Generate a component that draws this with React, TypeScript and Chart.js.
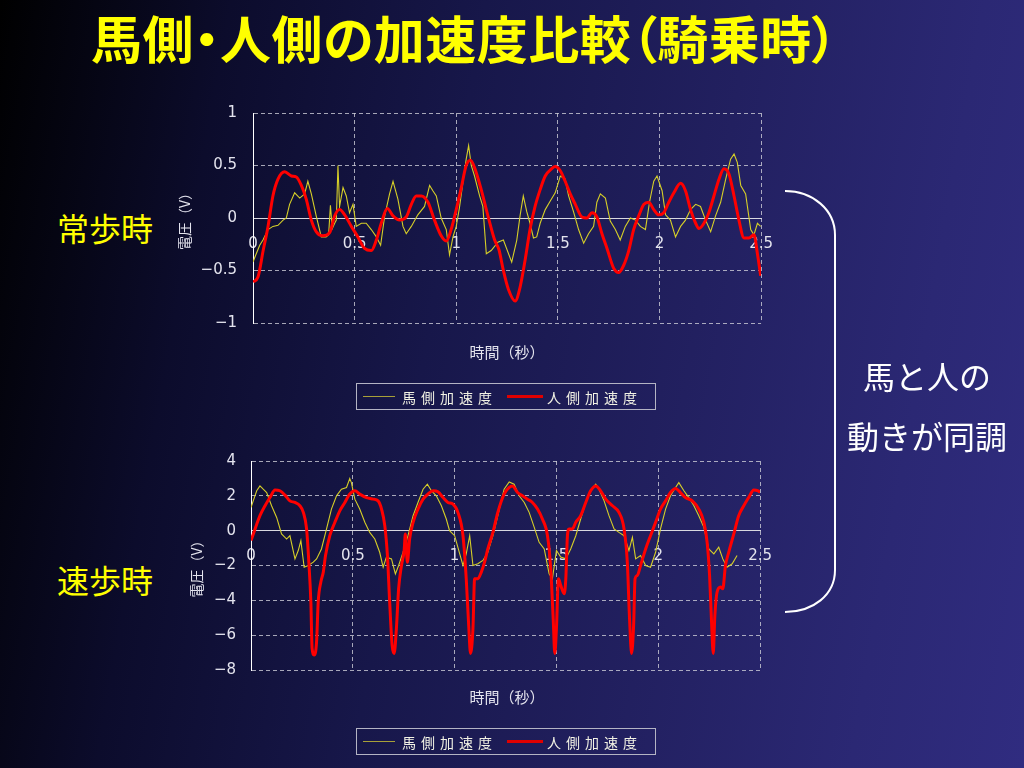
import React, { useEffect, useRef } from 'react';
import { Chart, registerables } from 'chart.js';

Chart.register(...registerables);

// ---------- data ----------
const timeTicks = ['0', '0.5', '1', '1.5', '2', '2.5'];
const walkYTicks = ['−1', '−0.5', '0', '0.5', '1'];
const trotYTicks = ['−8', '−6', '−4', '−2', '0', '2', '4'];

const seriesNames = ['馬側加速度', '人側加速度'];

// 常歩時 (walk) — [time s, voltage V]
const walkHorse: number[][] = [
  [0, -0.42], [0.016, -0.34], [0.033, -0.26], [0.049, -0.21], [0.074, -0.11], [0.098, -0.08], [0.123, -0.07],
  [0.148, -0.02], [0.164, 0.0], [0.18, 0.13], [0.205, 0.24], [0.23, 0.19], [0.254, 0.23], [0.27, 0.35],
  [0.287, 0.23], [0.311, 0.02], [0.336, -0.18], [0.36, -0.18], [0.372, -0.16], [0.381, 0.12], [0.39, -0.1],
  [0.402, -0.05], [0.41, -0.02], [0.418, 0.5], [0.426, 0.11], [0.443, 0.29], [0.459, 0.21], [0.475, 0.05],
  [0.492, 0.13], [0.508, -0.08], [0.533, -0.05], [0.557, -0.05], [0.582, -0.11], [0.607, -0.18], [0.628, -0.26],
  [0.648, 0.02], [0.672, 0.23], [0.689, 0.35], [0.713, 0.18], [0.738, -0.08], [0.754, -0.15], [0.779, -0.08],
  [0.811, 0.03], [0.844, 0.11], [0.869, 0.31], [0.885, 0.26], [0.902, 0.21], [0.926, 0.0], [0.951, -0.11],
  [0.967, -0.35], [0.984, -0.18], [1.0, -0.08], [1.016, 0.1], [1.033, 0.34], [1.049, 0.56], [1.061, 0.69],
  [1.074, 0.5], [1.09, 0.4], [1.115, 0.21], [1.131, 0.11], [1.148, -0.34], [1.172, -0.31], [1.205, -0.23],
  [1.232, -0.21], [1.273, -0.42], [1.298, -0.21], [1.314, 0.02], [1.33, 0.21], [1.347, 0.06], [1.363, -0.05],
  [1.38, -0.19], [1.396, -0.18], [1.413, -0.05], [1.438, 0.08], [1.462, 0.16], [1.487, 0.24], [1.512, 0.4],
  [1.536, 0.37], [1.553, 0.21], [1.577, 0.06], [1.602, -0.11], [1.627, -0.24], [1.651, -0.15], [1.676, -0.08],
  [1.692, 0.15], [1.709, 0.23], [1.734, 0.19], [1.758, -0.03], [1.783, -0.11], [1.807, -0.21], [1.832, -0.08],
  [1.857, 0.0], [1.882, -0.02], [1.906, -0.08], [1.931, -0.11], [1.951, 0.15], [1.972, 0.35], [1.988, 0.4],
  [2.013, 0.26], [2.03, 0.03], [2.054, -0.02], [2.079, -0.18], [2.104, -0.08], [2.128, -0.02], [2.153, 0.08],
  [2.178, 0.13], [2.202, 0.11], [2.227, -0.02], [2.252, -0.13], [2.276, 0.02], [2.301, 0.15], [2.326, 0.37],
  [2.35, 0.56], [2.367, 0.61], [2.383, 0.53], [2.4, 0.31], [2.424, 0.23], [2.449, -0.11], [2.465, -0.16],
  [2.482, -0.05], [2.498, -0.08],
];

const walkHuman: number[][] = [
  [0, -0.61], [0.025, -0.56], [0.05, -0.31], [0.074, -0.08], [0.098, 0.21], [0.123, 0.37], [0.156, 0.44],
  [0.189, 0.4], [0.213, 0.39], [0.238, 0.31], [0.262, 0.18], [0.287, -0.02], [0.311, -0.13], [0.344, -0.17],
  [0.377, -0.14], [0.402, 0.02], [0.426, 0.08], [0.451, 0.03], [0.484, -0.08], [0.516, -0.18], [0.549, -0.29],
  [0.582, -0.31], [0.607, -0.21], [0.631, -0.05], [0.661, 0.09], [0.689, 0.02], [0.721, -0.02], [0.754, 0.01],
  [0.779, 0.13], [0.803, 0.21], [0.828, 0.21], [0.861, 0.15], [0.893, -0.02], [0.926, -0.17], [0.951, -0.22],
  [0.975, -0.11], [1.0, 0.08], [1.025, 0.29], [1.049, 0.5], [1.07, 0.55], [1.09, 0.48], [1.123, 0.27],
  [1.156, 0.02], [1.189, -0.21], [1.21, -0.3], [1.232, -0.5], [1.257, -0.68], [1.29, -0.79], [1.314, -0.66],
  [1.339, -0.4], [1.363, -0.11], [1.388, 0.11], [1.413, 0.27], [1.438, 0.4], [1.47, 0.47], [1.487, 0.49],
  [1.512, 0.45], [1.536, 0.35], [1.561, 0.23], [1.586, 0.13], [1.618, 0.01], [1.643, 0.0], [1.668, 0.05],
  [1.692, 0.01], [1.717, -0.15], [1.742, -0.29], [1.775, -0.48], [1.799, -0.52], [1.824, -0.45], [1.849, -0.31],
  [1.873, -0.11], [1.898, 0.02], [1.923, 0.13], [1.947, 0.15], [1.972, 0.08], [1.997, 0.03], [2.021, 0.05],
  [2.046, 0.15], [2.071, 0.24], [2.104, 0.33], [2.128, 0.26], [2.153, 0.08], [2.178, -0.05], [2.194, -0.1],
  [2.219, -0.05], [2.243, 0.05], [2.268, 0.21], [2.293, 0.37], [2.317, 0.47], [2.342, 0.42], [2.367, 0.21],
  [2.391, -0.02], [2.416, -0.19], [2.44, -0.19], [2.465, -0.16], [2.482, -0.34], [2.498, -0.55],
];

// 速歩時 (trot)
const trotHorse: number[][] = [
  [0, 1.33], [0.011, 1.71], [0.028, 2.29], [0.044, 2.57], [0.06, 2.38], [0.077, 2.19], [0.101, 1.43],
  [0.126, 0.76], [0.15, -0.19], [0.175, -0.48], [0.191, -0.29], [0.216, -1.62], [0.232, -1.14], [0.245, -0.57],
  [0.261, -2.1], [0.281, -2.0], [0.306, -1.81], [0.322, -1.62], [0.346, -1.05], [0.371, 0.1], [0.395, 1.24],
  [0.42, 2.0], [0.444, 2.38], [0.469, 2.48], [0.485, 2.99], [0.493, 2.76], [0.51, 1.81], [0.534, 1.24],
  [0.559, 0.48], [0.583, -0.1], [0.608, -0.48], [0.632, -1.24], [0.649, -2.1], [0.665, -1.52], [0.69, -1.62],
  [0.709, -2.48], [0.725, -2.0], [0.747, -1.24], [0.771, -0.29], [0.796, 0.86], [0.82, 1.62], [0.845, 2.38],
  [0.866, 2.67], [0.886, 2.29], [0.91, 2.0], [0.935, 1.43], [0.959, 0.67], [0.975, 0.0], [1.0, -0.29],
  [1.025, -1.33], [1.041, -2.0], [1.057, -1.33], [1.074, -0.29], [1.09, -2.0], [1.114, -1.9], [1.139, -1.71],
  [1.163, -1.24], [1.188, -0.29], [1.212, 0.86], [1.243, 2.38], [1.268, 2.8], [1.292, 2.67], [1.317, 2.0],
  [1.342, 1.62], [1.366, 1.05], [1.391, 0.19], [1.415, -0.67], [1.44, -1.05], [1.464, -2.48], [1.48, -2.76],
  [1.5, -1.14], [1.521, -1.52], [1.546, -1.62], [1.57, -1.05], [1.595, -0.29], [1.619, 0.67], [1.644, 1.62],
  [1.668, 2.29], [1.693, 2.67], [1.709, 2.38], [1.734, 1.71], [1.758, 0.86], [1.783, 0.1], [1.807, -0.1],
  [1.832, -0.29], [1.856, -1.14], [1.873, -0.38], [1.889, -1.62], [1.913, -1.43], [1.938, -2.0], [1.962, -2.1],
  [1.987, -1.24], [2.011, 0.1], [2.036, 1.24], [2.06, 2.0], [2.085, 2.48], [2.101, 2.76], [2.126, 2.29],
  [2.15, 1.9], [2.175, 1.43], [2.199, 0.86], [2.224, 0.19], [2.248, -1.05], [2.273, -1.33], [2.297, -0.95],
  [2.317, -1.62], [2.338, -2.1], [2.363, -1.9], [2.387, -1.43],
];

const trotHuman: number[][] = [
  [0, -0.57], [0.02, 0.1], [0.044, 0.86], [0.069, 1.43], [0.093, 1.9], [0.118, 2.34], [0.142, 2.29],
  [0.167, 2.04], [0.191, 1.71], [0.216, 1.62], [0.24, 1.43], [0.257, 1.05], [0.273, 0.1], [0.284, -1.81],
  [0.294, -4.1], [0.3, -6.76], [0.31, -7.14], [0.322, -6.38], [0.33, -4.1], [0.343, -2.95], [0.355, -2.38],
  [0.366, -1.43], [0.387, -0.29], [0.412, 0.48], [0.436, 1.14], [0.461, 1.62], [0.485, 2.1], [0.51, 2.29],
  [0.534, 2.1], [0.567, 1.9], [0.6, 1.81], [0.624, 1.71], [0.641, 1.24], [0.657, 0.29], [0.67, -1.43],
  [0.681, -4.1], [0.693, -6.57], [0.703, -7.05], [0.714, -5.62], [0.725, -3.33], [0.739, -2.0], [0.752, -1.14],
  [0.758, -0.19], [0.768, -1.81], [0.779, -0.48], [0.796, 0.48], [0.82, 1.24], [0.845, 1.81], [0.869, 2.1],
  [0.894, 2.29], [0.918, 2.23], [0.943, 1.9], [0.967, 1.62], [0.992, 1.52], [1.016, 1.05], [1.041, -0.29],
  [1.057, -2.76], [1.069, -5.43], [1.078, -7.05], [1.09, -5.62], [1.098, -2.76], [1.114, -2.76], [1.131, -2.38],
  [1.147, -1.81], [1.163, -1.05], [1.188, -0.1], [1.212, 1.05], [1.243, 2.1], [1.268, 2.48], [1.284, 2.57],
  [1.309, 2.19], [1.333, 2.0], [1.358, 1.81], [1.382, 1.62], [1.407, 1.24], [1.431, 0.67], [1.456, -0.29],
  [1.472, -2.19], [1.484, -5.05], [1.492, -7.05], [1.5, -5.62], [1.51, -2.76], [1.521, -3.14], [1.538, -3.62],
  [1.546, -2.76], [1.554, -0.29], [1.562, 0.1], [1.578, 0.1], [1.595, 0.48], [1.619, 0.86], [1.644, 1.62],
  [1.668, 2.29], [1.693, 2.57], [1.717, 2.29], [1.742, 1.81], [1.775, 1.43], [1.807, 1.05], [1.832, 0.1],
  [1.848, -1.81], [1.859, -5.05], [1.869, -7.05], [1.879, -5.43], [1.886, -2.76], [1.897, -2.57], [1.913, -2.0],
  [1.938, -1.05], [1.962, -0.29], [1.987, 0.48], [2.011, 1.24], [2.036, 1.71], [2.06, 2.19], [2.085, 2.42],
  [2.109, 2.19], [2.134, 1.9], [2.167, 1.71], [2.199, 1.24], [2.224, 0.48], [2.24, -0.67], [2.252, -2.57],
  [2.261, -5.05], [2.27, -7.05], [2.278, -4.86], [2.289, -3.52], [2.306, -3.24], [2.317, -3.33], [2.33, -2.0],
  [2.346, -1.24], [2.371, -0.19], [2.395, 0.86], [2.42, 1.43], [2.444, 1.9], [2.469, 2.34], [2.49, 2.29],
  [2.5, 2.2],
];

// ---------- styling constants ----------
const HORSE_COLOR = '#d6cf28';
const HUMAN_COLOR = '#ff0000';
const TEXT_LIGHT = '#e4e4ee';
const GRID_COLOR = 'rgba(205,205,215,0.8)';

type PanelProps = {
  left: number;
  top: number;
  width: number;
  height: number;
  yAxisWidth: number;
  titlePad: number;
  yTickPad: number;
  xTickPad: number;
  yMin: number;
  yMax: number;
  yStep: number;
  yLabels: string[];
  horse: number[][];
  human: number[][];
};

function ChartPanel(p: PanelProps) {
  const ref = useRef<HTMLCanvasElement | null>(null);
  useEffect(() => {
    if (!ref.current) return;
    const chart = new Chart(ref.current, {
      type: 'line',
      data: {
        datasets: [
          {
            label: seriesNames[1],
            data: p.human.map(([x, y]) => ({ x, y })),
            borderColor: HUMAN_COLOR,
            borderWidth: 3,
            pointRadius: 0,
            cubicInterpolationMode: 'monotone',
            order: 0,
          },
          {
            label: seriesNames[0],
            data: p.horse.map(([x, y]) => ({ x, y })),
            borderColor: HORSE_COLOR,
            borderWidth: 1.1,
            pointRadius: 0,
            tension: 0,
            order: 1,
          },
        ],
      },
      options: {
        responsive: false,
        animation: false,
        events: [],
        layout: { padding: 0 },
        plugins: { legend: { display: false }, tooltip: { enabled: false } },
        scales: {
          x: {
            type: 'linear',
            position: { y: 0 } as any,
            min: 0,
            max: 2.5,
            ticks: {
              stepSize: 0.5,
              padding: p.xTickPad,
              color: TEXT_LIGHT,
              font: { family: 'DejaVu Sans', size: 15 },
              maxRotation: 0,
              callback: (v: any) => timeTicks[Math.round(Number(v) / 0.5)] ?? '',
            },
            grid: { color: GRID_COLOR, lineWidth: 1, drawTicks: false },
            border: { display: true, color: '#d8d8e0', width: 1, dash: [4, 3] },
          },
          y: {
            type: 'linear',
            position: 'left',
            min: p.yMin,
            max: p.yMax,
            afterFit: (scale: any) => {
              scale.width = p.yAxisWidth;
            },
            ticks: {
              stepSize: p.yStep,
              padding: p.yTickPad,
              color: TEXT_LIGHT,
              font: { family: 'DejaVu Sans', size: 15 },
              callback: (v: any) => p.yLabels[Math.round((Number(v) - p.yMin) / p.yStep)] ?? '',
            },
            grid: { color: GRID_COLOR, lineWidth: 1, drawTicks: false },
            border: { display: true, color: '#ffffff', width: 1, dash: [4, 3] },
            title: {
              display: true,
              text: '電圧（V）',
              color: TEXT_LIGHT,
              font: { family: 'Noto Sans CJK JP', size: 14 },
              padding: { top: p.titlePad, bottom: 0 },
            },
          },
        },
      },
    });
    return () => chart.destroy();
  }, []);
  return (
    <canvas
      ref={ref}
      width={p.width}
      height={p.height}
      style={{ position: 'absolute', left: p.left, top: p.top, width: p.width, height: p.height, display: 'block' }}
    />
  );
}

function Legend({ left, top }: { left: number; top: number }) {
  const txt: React.CSSProperties = {
    position: 'absolute',
    top: 0,
    height: 27,
    lineHeight: '26px',
    fontSize: 14,
    letterSpacing: 5,
    color: '#f2f2e4',
    whiteSpace: 'nowrap',
  };
  return (
    <div
      style={{
        position: 'absolute',
        left,
        top,
        width: 300,
        height: 27,
        boxSizing: 'border-box',
        border: '1px solid #b4b4c4',
      }}
    >
      <div style={{ position: 'absolute', left: 6, top: 12, width: 32, height: 1, background: '#a8a038' }} />
      <div style={{ ...txt, left: 45 }}>{seriesNames[0]}</div>
      <div style={{ position: 'absolute', left: 150, top: 11, width: 36, height: 3, background: '#e00000' }} />
      <div style={{ ...txt, left: 190 }}>{seriesNames[1]}</div>
    </div>
  );
}

export default function App() {
  const jp = "'Noto Sans CJK JP', 'Noto Sans', sans-serif";
  const abs: React.CSSProperties = { position: 'absolute', whiteSpace: 'nowrap' };
  return (
    <div
      style={{
        position: 'fixed',
        left: 0,
        top: 0,
        width: 1024,
        height: 768,
        overflow: 'hidden',
        fontFamily: jp,
        background:
          'linear-gradient(100deg, #000000 0%, #0c0c2c 20%, #17174a 42%, #222060 65%, #2b2874 85%, #302c80 100%)',
      }}
    >
      <div
        style={{
          ...abs,
          left: 91,
          top: 12,
          fontSize: 51,
          lineHeight: '51px',
          fontWeight: 700,
          letterSpacing: 0.5,
          color: '#ffff00',
          fontFeatureSettings: '"palt"',
        }}
      >
        馬側・人側の加速度比較（騎乗時）
      </div>

      <div style={{ ...abs, left: 57, top: 211, fontSize: 32, lineHeight: '32px', color: '#ffff00' }}>常歩時</div>
      <div style={{ ...abs, left: 57, top: 563, fontSize: 32, lineHeight: '32px', color: '#ffff00' }}>速歩時</div>

      <ChartPanel
        left={160}
        top={88}
        width={630}
        height={260}
        yAxisWidth={93}
        titlePad={16}
        yTickPad={16}
        xTickPad={17}
        yMin={-1}
        yMax={1}
        yStep={0.5}
        yLabels={walkYTicks}
        horse={walkHorse}
        human={walkHuman}
      />
      <div style={{ ...abs, left: 407, width: 200, textAlign: 'center', top: 343, fontSize: 15, lineHeight: '18px', color: TEXT_LIGHT }}>
        時間（秒）
      </div>
      <Legend left={356} top={383} />

      <ChartPanel
        left={160}
        top={437}
        width={628}
        height={257}
        yAxisWidth={91}
        titlePad={28}
        yTickPad={15}
        xTickPad={16}
        yMin={-8}
        yMax={4}
        yStep={2}
        yLabels={trotYTicks}
        horse={trotHorse}
        human={trotHuman}
      />
      <div style={{ ...abs, left: 407, width: 200, textAlign: 'center', top: 688, fontSize: 15, lineHeight: '18px', color: TEXT_LIGHT }}>
        時間（秒）
      </div>
      <Legend left={356} top={728} />

      <svg width={1024} height={768} style={{ position: 'absolute', left: 0, top: 0 }}>
        <path
          d="M785 191 C813 191, 835 210, 835 235 L835 570 C835 595, 813 612, 785 612"
          fill="none"
          stroke="#ffffff"
          strokeWidth={2}
        />
      </svg>

      <div style={{ ...abs, left: 827, width: 200, textAlign: 'center', top: 358, fontSize: 32, lineHeight: '34px', color: '#ffffff' }}>
        馬と人の
      </div>
      <div style={{ ...abs, left: 827, width: 200, textAlign: 'center', top: 418, fontSize: 32, lineHeight: '34px', color: '#ffffff' }}>
        動きが同調
      </div>
    </div>
  );
}
